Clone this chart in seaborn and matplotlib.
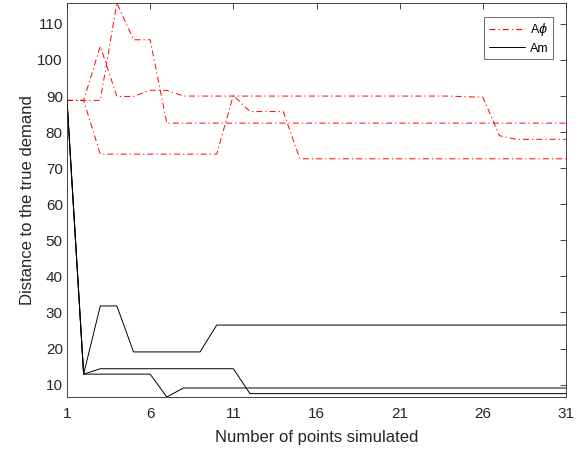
import numpy as np
import pandas as pd
import matplotlib
matplotlib.use("Agg")
import matplotlib.pyplot as plt
import seaborn as sns
from matplotlib.lines import Line2D

sns.set_theme(style="white")
plt.rcParams['font.family'] = ['Liberation Sans', 'DejaVu Sans']
plt.rcParams['lines.scale_dashes'] = False

x = list(range(1, 32))

aphi_1 = [88.8, 88.8, 88.8, 115.8, 105.6, 105.6] + [82.5] * 25
aphi_2 = [88.8, 88.8, 103.8, 89.9, 89.9, 91.6, 91.6] + [90.0] * 17 + [89.8, 89.7, 79.0] + [78.0] * 4
aphi_3 = [88.8, 88.8] + [73.9] * 8 + [90.2, 85.7, 85.7, 85.7] + [72.6] * 17

am_1 = [88.8, 12.9, 31.8, 31.8] + [19.06] * 5 + [26.5] * 22
am_2 = [88.8, 12.9] + [14.4] * 9 + [7.5] * 20
am_3 = [88.8, 12.9, 12.9, 12.9, 12.9, 12.9, 6.56] + [9.06] * 24

red_series = [aphi_1, aphi_2, aphi_3]
black_series = [am_1, am_2, am_3]

xticks = [1, 6, 11, 16, 21, 26, 31]
yticks = [10, 20, 30, 40, 50, 60, 70, 80, 90, 100, 110]

W, H = 579, 455
fig = plt.figure(figsize=(W / 100, H / 100), dpi=100)
ax = fig.add_axes([67 / W, (H - 397) / H, (566 - 67) / W, (397 - 3) / H])

gray = (0.15, 0.15, 0.15)
red = (1.0, 0.0, 0.0)
dashdot = (4.3, 2.2, 0.9, 2.2)

for s in red_series:
    sns.lineplot(x=x, y=s, ax=ax, color=red, linewidth=0.7, estimator=None)
    ax.lines[-1].set_dashes(dashdot)
for s in black_series:
    sns.lineplot(x=x, y=s, ax=ax, color='black', linewidth=0.7, estimator=None)

allv = np.concatenate([np.array(s) for s in red_series + black_series])
ax.set_xlim(1, 31)
ax.set_ylim(allv.min(), allv.max())
ax.set_xticks(xticks)
ax.set_yticks(yticks)
ax.tick_params(direction='in', length=4, width=0.6, colors=gray, labelsize=11,
               top=True, right=True, labelcolor=gray)
ax.tick_params(axis='x', pad=7)
ax.tick_params(axis='y', pad=3)
for sp in ax.spines.values():
    sp.set_color(gray)
    sp.set_linewidth(0.6)
    sp.set_visible(True)

ax.set_xlabel('Number of points simulated', fontsize=12, color=gray, labelpad=7)
ax.set_ylabel('Distance to the true demand', fontsize=12, color=gray, labelpad=2)

handles = [Line2D([0], [0], color=red, lw=0.8, dashes=dashdot),
           Line2D([0], [0], color='black', lw=0.7)]
leg = ax.legend(handles, ['A$\\phi$', 'Am'], loc='upper right',
                bbox_to_anchor=(0.9735, 0.9645), fontsize=9, frameon=True,
                fancybox=False, edgecolor=gray, handlelength=2.9,
                borderpad=0.35, labelspacing=0.35, handletextpad=0.4,
                borderaxespad=0.0)
leg.get_frame().set_linewidth(0.6)
for t in leg.get_texts():
    t.set_color('black')

fig.savefig('out.png', dpi=100)
